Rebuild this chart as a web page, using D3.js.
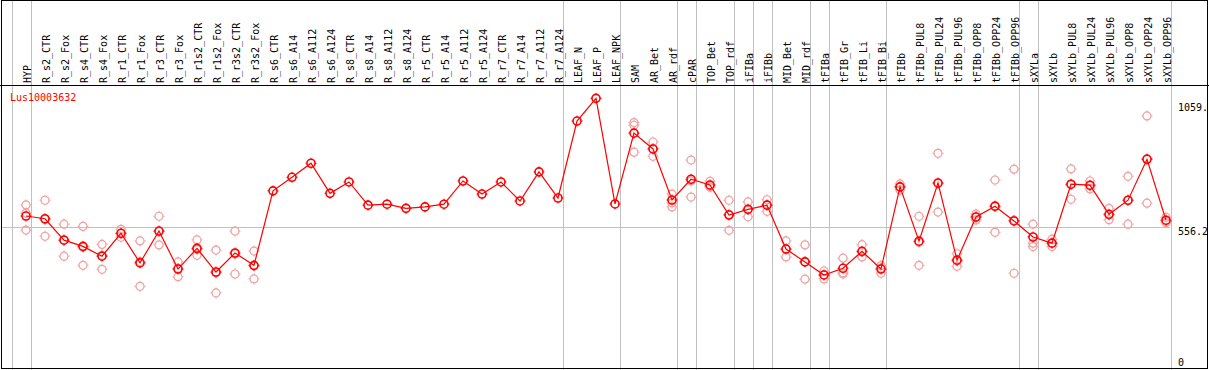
<!DOCTYPE html>
<html>
<head>
<meta charset="utf-8">
<script src="https://cdn.jsdelivr.net/npm/d3@7"></script>
<style>
    body { margin: 0; background: #fff; }
    svg { display: block; }
    text { font-family: "DejaVu Sans Mono", monospace; font-size: 10px; }
</style>
</head>
<body>
<div id="graph-container"></div>
<script>
// samples, in the order of the columns
const samples = ['HYP', 'R_s2_CTR', 'R_s2_Fox', 'R_s4_CTR', 'R_s4_Fox', 'R_r1_CTR', 'R_r1_Fox',
    'R_r3_CTR', 'R_r3_Fox', 'R_r1s2_CTR', 'R_r1s2_Fox', 'R_r3s2_CTR', 'R_r3s2_Fox',
    'R_s6_CTR', 'R_s6_A14', 'R_s6_A112', 'R_s6_A124', 'R_s8_CTR', 'R_s8_A14', 'R_s8_A112', 'R_s8_A124',
    'R_r5_CTR', 'R_r5_A14', 'R_r5_A112', 'R_r5_A124', 'R_r7_CTR', 'R_r7_A14', 'R_r7_A112', 'R_r7_A124',
    'LEAF_N', 'LEAF_P', 'LEAF_NPK', 'SAM', 'AR_Bet', 'AR_rdf', 'cPAR', 'TOP_Bet', 'TOP_rdf',
    'iFIBa', 'iFIBb', 'MID_Bet', 'MID_rdf', 'tFIBa', 'tFIB_Gr', 'tFIB_Li', 'tFIB_Bi',
    'tFIBb', 'tFIBb_PUL8', 'tFIBb_PUL24', 'tFIBb_PUL96', 'tFIBb_OPP8', 'tFIBb_OPP24', 'tFIBb_OPP96',
    'sXYLa', 'sXYLb', 'sXYLb_PUL8', 'sXYLb_PUL24', 'sXYLb_PUL96', 'sXYLb_OPP8', 'sXYLb_OPP24', 'sXYLb_OPP96'];

// mean expression per sample
const means = [602, 591, 504, 479, 439, 532, 412, 541, 387, 471, 375, 452, 402,
    704, 759, 816, 694, 740, 646, 650, 633, 639, 650, 744, 691, 740, 663, 781, 675,
    987, 1079, 651, 938, 874, 667, 751, 728, 606, 629, 646, 468, 416, 363, 390, 459, 387,
    720, 500, 736, 423, 598, 642, 582, 517, 492, 731, 727, 609, 666, 832, 585];

// replicate values (empty where none are shown)
const replicates = [
    [647, 614, 545], [666, 588, 520], [569, 505, 439], [560, 475, 402], [487, 443, 386],
    [548, 532, 516], [501, 417, 317], [601, 539, 485], [416, 390, 356], [505, 466, 443],
    [464, 371, 290], [541, 448, 367], [460, 399, 347],
    [], [], [], [], [], [], [], [], [], [], [], [], [], [], [], [], [], [], [],
    [981, 970, 861], [902, 875, 844], [691, 655, 639], [829, 744, 679], [743, 723, 719],
    [666, 609, 544], [659, 629, 599], [668, 647, 621], [501, 468, 436], [485, 417, 346],
    [379, 363, 347], [431, 372, 367], [486, 456, 436], [401, 391, 370],
    [732, 720, 708], [601, 496, 402], [856, 733, 618], [449, 420, 398], [610, 598, 586],
    [748, 640, 536], [792, 585, 370], [569, 492, 478], [508, 492, 478],
    [793, 729, 670], [744, 724, 712], [633, 606, 587], [763, 666, 569], [1008, 835, 654], [597, 582, 575]];

// a grey separator follows each of these samples
const groupEnds = ['HYP', 'R_r7_A124', 'LEAF_NPK', 'AR_rdf', 'cPAR', 'TOP_rdf', 'iFIBa', 'iFIBb',
    'MID_rdf', 'tFIBa', 'tFIB_Bi', 'tFIBb_OPP96', 'sXYLa', 'sXYLb_OPP96'];

const yTicks = [0, 556.2, 1059];
const yTickLabels = ['0', '556.2', '1059.'];
const geneName = 'Lus10003632';

const width = 1209;
const height = 370;
const plotTop = 85;
const plotRight = 1170;

const svg = d3.select('#graph-container')
    .append('svg')
    .attr('width', width)
    .attr('height', height);

// Scale
const xScale = d3.scaleBand()
    .domain(samples)
    .range([16.5, 16.5 + samples.length * 19]);
const xc = (name) => xScale(name) + xScale.bandwidth() / 2;

const yScale = d3.scaleLinear()
    .domain([0, 1059])
    .range([364.5, 103.3]);

// Group separators (one before the first column too)
const sepX = [xc(samples[0]) - 19 + 4.5].concat(groupEnds.map((s) => xc(s) + 4.5));
svg.append('g')
    .selectAll('line')
    .data(sepX)
    .join('line')
    .attr('x1', (d) => Math.round(d) + 0.5)
    .attr('x2', (d) => Math.round(d) + 0.5)
    .attr('y1', 0)
    .attr('y2', height)
    .attr('stroke', '#c0c0c0')
    .attr('stroke-width', 1);

// Horizontal grid line at the middle tick
svg.append('line')
    .attr('x1', 2)
    .attr('x2', plotRight)
    .attr('y1', Math.round(yScale(556.2)) + 0.5)
    .attr('y2', Math.round(yScale(556.2)) + 0.5)
    .attr('stroke', '#c0c0c0');

// Frame
svg.append('rect')
    .attr('x', 1.5)
    .attr('y', 0.5)
    .attr('width', 1206)
    .attr('height', 368)
    .attr('fill', 'none')
    .attr('stroke', '#000');

// Header separator
svg.append('line')
    .attr('x1', 0)
    .attr('x2', width)
    .attr('y1', plotTop + 0.5)
    .attr('y2', plotTop + 0.5)
    .attr('stroke', '#000');

// Column labels
svg.append('g')
    .selectAll('text')
    .data(samples)
    .join('text')
    .attr('transform', (d) => `translate(${xc(d) + 4.5},${plotTop - 2}) rotate(-90)`)
    .attr('fill', '#000')
    .text((d) => d);

// Gene name
svg.append('text')
    .attr('x', 10)
    .attr('y', 101)
    .attr('fill', '#ff0000')
    .text(geneName);

// Y tick labels on the right
svg.append('g')
    .selectAll('text')
    .data(yTicks)
    .join('text')
    .attr('x', 1178)
    .attr('y', (d) => Math.min(yScale(d) + 4, 362) + 3.5)
    .attr('fill', '#000')
    .text((d, i) => yTickLabels[i]);

// marker: circle with four small spikes
function marker(g, color, sw) {
    g.append('circle')
        .attr('r', 4)
        .attr('fill', 'none')
        .attr('stroke', color)
        .attr('stroke-width', sw);
    [[0, -1], [0, 1], [-1, 0], [1, 0]].forEach(([dx, dy]) => {
        g.append('line')
            .attr('x1', dx * 4)
            .attr('y1', dy * 4)
            .attr('x2', dx * 5.5)
            .attr('y2', dy * 5.5)
            .attr('stroke', color)
            .attr('stroke-width', 1);
    });
}

// Replicates
const repData = [];
samples.forEach((s, i) => {
    replicates[i].forEach((v) => repData.push({ sample: s, value: v }));
});
svg.append('g')
    .selectAll('g')
    .data(repData)
    .join('g')
    .attr('transform', (d) => `translate(${xc(d.sample)},${yScale(d.value)})`)
    .each(function () { marker(d3.select(this), '#f0a0a0', 1.2); });

// Mean line
const meanData = samples.map((s, i) => ({ sample: s, value: means[i] }));
const lineFunction = d3.line()
    .x((d) => xc(d.sample))
    .y((d) => yScale(d.value));

svg.append('path')
    .attr('d', lineFunction(meanData))
    .attr('stroke', '#ff0000')
    .attr('stroke-width', 1.2)
    .attr('fill', 'none');

svg.append('g')
    .selectAll('g')
    .data(meanData)
    .join('g')
    .attr('transform', (d) => `translate(${xc(d.sample)},${yScale(d.value)})`)
    .each(function () { marker(d3.select(this), '#ff0000', 1.6); });
</script>
</body>
</html>
